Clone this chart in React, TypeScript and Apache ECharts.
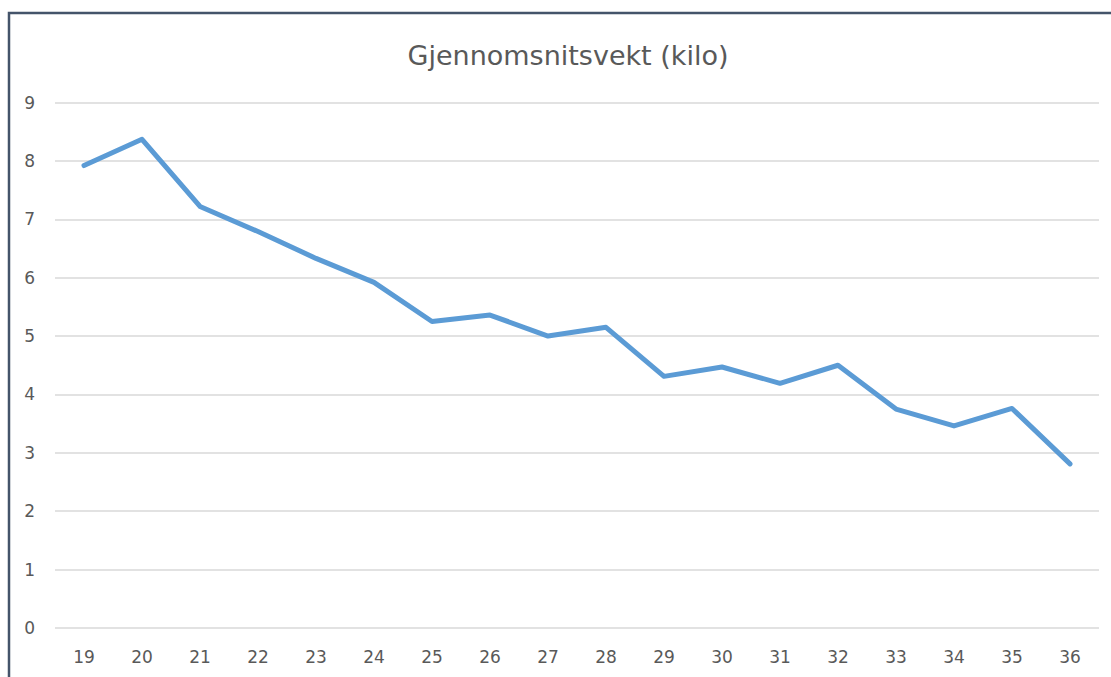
import React, { useEffect, useRef } from "react";
import * as echarts from "echarts";

const categories = ["19","20","21","22","23","24","25","26","27","28","29","30","31","32","33","34","35","36"];
const values = [7.92, 8.37, 7.22, 6.79, 6.33, 5.92, 5.25, 5.36, 5.0, 5.15, 4.31, 4.47, 4.19, 4.5, 3.75, 3.46, 3.76, 2.81];
const titleText = "Gjennomsnitsvekt (kilo)";

export default function App() {
  const ref = useRef<HTMLDivElement>(null);
  useEffect(() => {
    if (!ref.current) return;
    const chart = echarts.init(ref.current, null, { renderer: "svg" });
    const font = "'DejaVu Sans', 'Noto Sans', sans-serif";
    chart.setOption({
      animation: false,
      backgroundColor: "#ffffff",
      title: {
        text: titleText,
        left: 563,
        top: 37,
        textAlign: "center",
        textStyle: { fontFamily: font, fontSize: 27, fontWeight: "normal", color: "#595959" },
      },
      graphic: [
        {
          type: "rect",
          shape: { x: 9, y: 13, width: 1300, height: 900 },
          style: { fill: "none", stroke: "#44546a", lineWidth: 2.5 },
          silent: true,
          z: 100,
        },
      ],
      grid: { left: 55, right: 12, top: 102.5, bottom: 49 },
      xAxis: {
        type: "category",
        data: categories,
        boundaryGap: true,
        axisLine: { show: false },
        axisTick: { show: false },
        axisLabel: { color: "#595959", fontSize: 17, fontFamily: font, margin: 20 },
      },
      yAxis: {
        type: "value",
        min: 0,
        max: 9,
        interval: 1,
        axisLine: { show: false },
        axisTick: { show: false },
        axisLabel: { color: "#595959", fontSize: 17, fontFamily: font, margin: 20 },
        splitLine: { lineStyle: { color: "#d9d9d9", width: 1.5 } },
      },
      series: [
        {
          type: "line",
          data: values,
          showSymbol: false,
          symbol: "none",
          lineStyle: { color: "#5b9bd5", width: 5, cap: "round", join: "round" },
        },
      ],
    });
    return () => chart.dispose();
  }, []);
  return <div ref={ref} style={{ position: "fixed", left: 0, top: 0, width: 1111, height: 677 }} />;
}
